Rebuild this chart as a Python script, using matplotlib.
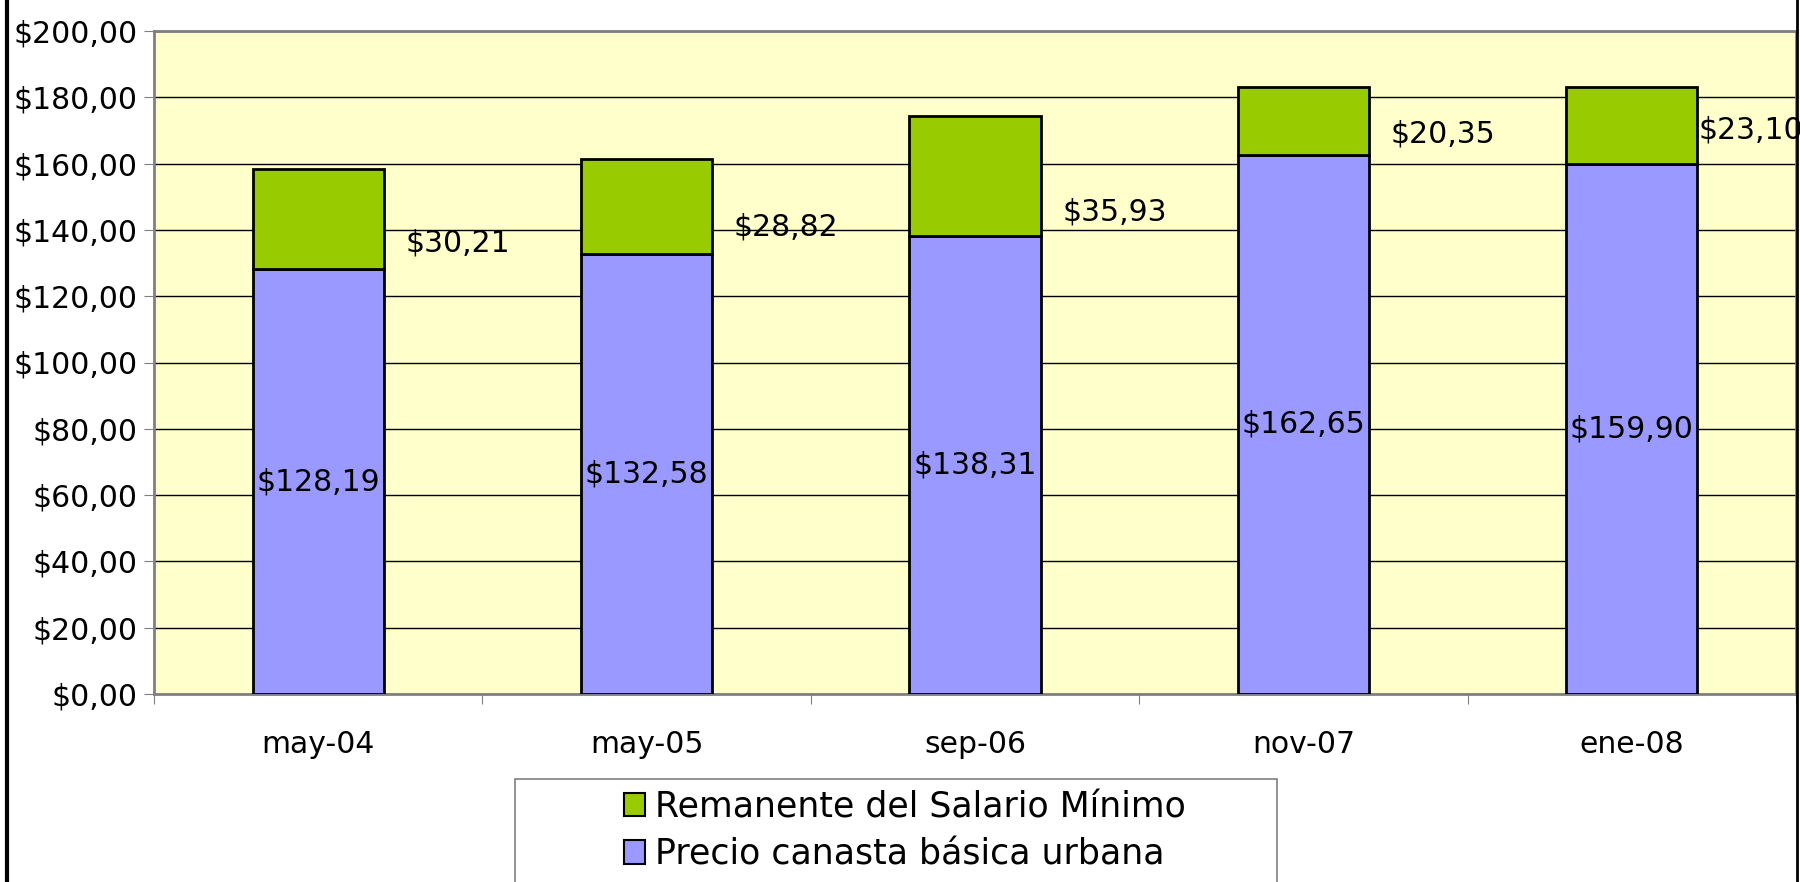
import numpy as np
import matplotlib.pyplot as plt
from matplotlib.patches import Rectangle
from matplotlib.lines import Line2D

# datos
fechas = ['may-04', 'may-05', 'sep-06', 'nov-07', 'ene-08']
precio_canasta = [128.19, 132.58, 138.31, 162.65, 159.90]
remanente = [30.21, 28.82, 35.93, 20.35, 23.10]

def pesos(v):
    return '$' + ('%.2f' % v).replace('.', ',')

fs = 21.5
fig = plt.figure(figsize=(18, 8.82), dpi=100)
ax = fig.add_axes([154/1800, 1 - 694/882, 1642/1800, 663/882])
ax.set_facecolor('#FFFFCC')

x = np.arange(len(fechas))
w = 0.4
b1 = ax.bar(x, precio_canasta, w, color='#9999FF', edgecolor='black', linewidth=2,
            label='Precio canasta básica urbana', zorder=3)
b2 = ax.bar(x, remanente, w, bottom=precio_canasta, color='#99CC00', edgecolor='black',
            linewidth=2, label='Remanente del Salario Mínimo', zorder=3)

ax.set_xlim(-0.5, 4.5)
ax.set_ylim(0, 200)
ax.set_yticks(np.arange(0, 201, 20))
ax.set_yticklabels([pesos(v) for v in np.arange(0, 201, 20)], fontsize=fs)
ax.yaxis.grid(True, color='black', linewidth=1, zorder=1)
ax.set_axisbelow(True)

ax.set_xticks(np.arange(-0.5, 4.6, 1))
ax.set_xticklabels([])
ax.set_xticks(x, minor=True)
ax.set_xticklabels(fechas, minor=True, fontsize=fs)
ax.tick_params(axis='x', which='major', length=7, color='#808080')
ax.tick_params(axis='x', which='minor', length=0, pad=26)
ax.tick_params(axis='y', length=7, pad=5, color='#808080')
for s in ax.spines.values():
    s.set_color('#808080')
    s.set_linewidth(2)

# etiquetas
for i in range(len(fechas)):
    ax.text(x[i], precio_canasta[i] / 2, pesos(precio_canasta[i]), ha='center', va='center',
            fontsize=fs, zorder=4)
rem_y = [136, 141, 145.5, 169, 170]
rem_dx = [0.065, 0.065, 0.065, 0.065, 0.003]
for i in range(len(fechas)):
    ax.text(x[i] + w / 2 + rem_dx[i], rem_y[i], pesos(remanente[i]), ha='left', va='center',
            fontsize=fs, zorder=4, clip_on=False)

# marco del grafico
fig.add_artist(Line2D([7/1800, 7/1800], [0, 1], color='black', linewidth=3))
fig.add_artist(Line2D([1797/1800, 1797/1800], [0, 1], color='black', linewidth=2))

# leyenda
fig.add_artist(Rectangle((515/1800, -0.05), 762/1800, 0.05 + 1 - 779/882,
                         facecolor='white', edgecolor='#808080', linewidth=1.2))
leg = fig.legend([b2, b1], ['Remanente del Salario Mínimo', 'Precio canasta básica urbana'],
                 loc='upper left', bbox_to_anchor=(624/1800, 1 - 790/882), frameon=False,
                 fontsize=25, handlelength=0.6, handleheight=0.65, handletextpad=0.3,
                 labelspacing=0.38, borderpad=0, borderaxespad=0)
for h in leg.legend_handles:
    h.set_linewidth(1.5)

plt.savefig('out.png', dpi=100)
